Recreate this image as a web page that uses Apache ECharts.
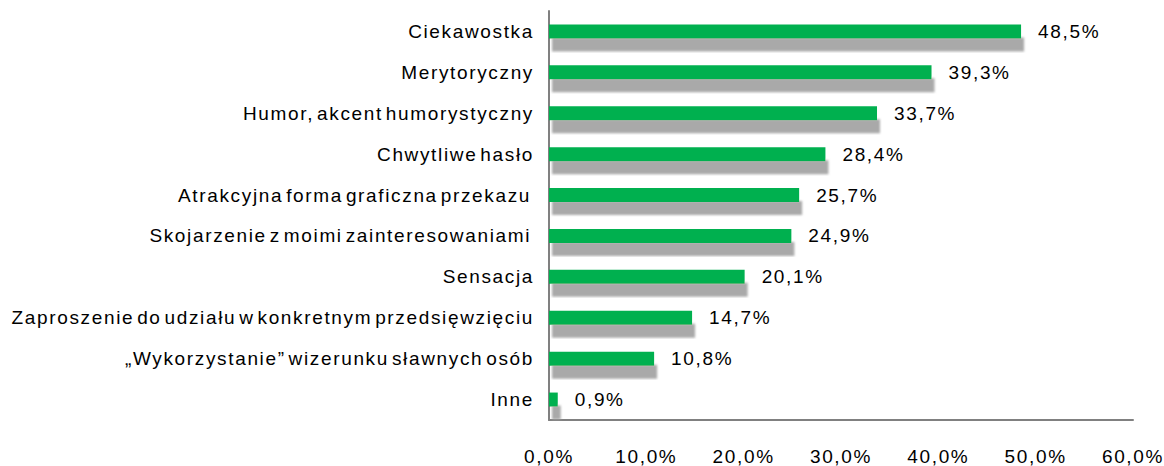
<!DOCTYPE html>
<html>
<head>
<meta charset="utf-8">
<script src="https://cdn.jsdelivr.net/npm/echarts@6/dist/echarts.min.js"></script>
<style>
  html, body { margin: 0; padding: 0; background: #ffffff; }
  #chart { width: 1164px; height: 466px; }
  #chart text { letter-spacing: 1.65px; word-spacing: -4px; }
</style>
</head>
<body>
<div id="chart"></div>
<script>
const categories = [
  'Ciekawostka',
  'Merytoryczny',
  'Humor, akcent humorystyczny',
  'Chwytliwe hasło',
  'Atrakcyjna forma graficzna przekazu ',
  'Skojarzenie z moimi zainteresowaniami ',
  'Sensacja',
  'Zaproszenie do udziału w konkretnym przedsięwzięciu',
  '„Wykorzystanie” wizerunku sławnych osób',
  'Inne'
];
const values = [48.5, 39.3, 33.7, 28.4, 25.7, 24.9, 20.1, 14.7, 10.8, 0.9];
const axisMin = 0;
const axisMax = 60;
const axisStep = 10;

const fmt = v => Number(v).toFixed(1).replace('.', ',') + '%';
const FONT = '"Liberation Sans", Arial, sans-serif';

const chart = echarts.init(document.getElementById('chart'), null, { renderer: 'svg' });
chart.setOption({
  animation: false,
  backgroundColor: '#ffffff',
  grid: { left: 549, right: 31, top: 11, bottom: 45 },
  xAxis: {
    type: 'value',
    min: axisMin, max: axisMax, interval: axisStep,
    axisLine: { show: true, lineStyle: { color: '#808080', width: 2 } },
    axisTick: { show: false },
    splitLine: { show: false },
    axisLabel: { formatter: fmt, color: '#000', fontSize: 19, fontFamily: FONT, margin: 27 }
  },
  yAxis: {
    type: 'category',
    inverse: true,
    data: categories,
    axisLine: { show: true, lineStyle: { color: '#808080', width: 2 } },
    axisTick: { show: false },
    axisLabel: { color: '#000', fontSize: 19, fontFamily: FONT, margin: 15 }
  },
  series: [{
    type: 'bar',
    data: values,
    barWidth: 14,
    itemStyle: {
      color: '#00B050',
      shadowColor: 'rgba(160,160,160,0.9)',
      shadowOffsetX: 3,
      shadowOffsetY: 13,
      shadowBlur: 2
    },
    label: {
      show: true,
      position: 'right',
      distance: 17,
      formatter: p => fmt(p.value),
      color: '#000',
      fontSize: 19,
      fontFamily: FONT
    }
  }]
});
</script>
</body>
</html>
